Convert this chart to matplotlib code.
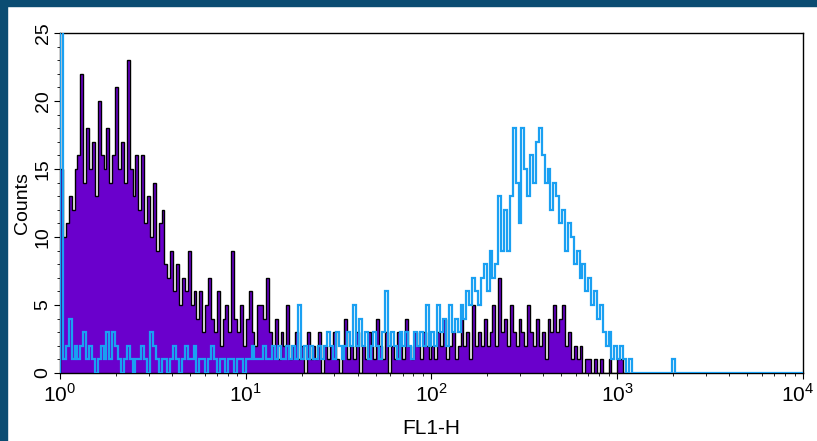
import numpy as np
import matplotlib
matplotlib.use('Agg')
import matplotlib.pyplot as plt
import matplotlib.transforms as mtransforms
from matplotlib.patches import Rectangle
from matplotlib.ticker import LogLocator, MultipleLocator

plt.rcParams['font.family'] = ['Liberation Sans', 'DejaVu Sans']
plt.rcParams['mathtext.fontset'] = 'custom'
plt.rcParams['mathtext.rm'] = 'Liberation Sans'

# 256 channels over 4 log decades (64 per decade)
n_channels = 256
channels_per_decade = 64
decade_ticks = [1, 10, 100, 1000, 10000]
decade_labels = ['$10^0$', '$10^1$', '$10^2$', '$10^3$', '$10^4$']

# unstained / control histogram (purple, filled)
control = [
    15, 10, 11, 13, 12, 15, 16, 22, 14, 18, 15, 17, 13, 20, 16, 15,
    18, 14, 16, 21, 15, 17, 14, 23, 15, 13, 16, 12, 16, 11, 13, 10,
    14, 9, 11, 12, 8, 7, 9, 6, 8, 5, 7, 6, 9, 5, 6, 4,
    6, 3, 5, 7, 4, 3, 6, 2, 4, 5, 3, 9, 4, 3, 5, 2,
    4, 6, 3, 2, 5, 5, 4, 7, 3, 2, 4, 1, 3, 2, 5, 1,
    2, 3, 1, 2, 0, 3, 1, 2, 1, 3, 0, 2, 1, 2, 3, 1,
    0, 2, 4, 1, 2, 1, 3, 0, 2, 1, 3, 2, 1, 4, 2, 1,
    3, 0, 2, 1, 3, 2, 1, 4, 2, 1, 3, 2, 1, 3, 2, 1,
    2, 1, 3, 2, 4, 1, 2, 3, 1, 2, 4, 2, 3, 1, 5, 2,
    3, 2, 4, 2, 3, 5, 2, 7, 3, 4, 2, 5, 3, 2, 4, 3,
    2, 5, 3, 2, 4, 2, 3, 1, 4, 3, 5, 3, 4, 5, 2, 3,
    1, 2, 1, 2, 0, 1, 1, 0, 1, 0, 1, 0, 0, 1, 0, 0,
    1, 1, 0, 0, 0, 0, 0, 0, 0, 0, 0, 0, 0, 0, 0, 0,
    0, 0, 0, 0, 0, 0, 0, 0, 0, 0, 0, 0, 0, 0, 0, 0,
    0, 0, 0, 0, 0, 0, 0, 0, 0, 0, 0, 0, 0, 0, 0, 0,
    0, 0, 0, 0, 0, 0, 0, 0, 0, 0, 0, 0, 0, 0, 0, 0,
]

# stained sample histogram (light blue outline)
stained = [
    30, 1, 2, 4, 1, 2, 1, 2, 3, 1, 2, 1, 0, 1, 2, 1,
    3, 1, 3, 2, 1, 0, 1, 2, 1, 0, 1, 1, 2, 1, 0, 3,
    2, 1, 0, 1, 1, 0, 1, 2, 1, 0, 1, 2, 1, 1, 2, 0,
    1, 1, 0, 1, 2, 1, 0, 1, 1, 0, 1, 1, 0, 1, 1, 0,
    1, 1, 2, 1, 1, 1, 2, 1, 1, 2, 1, 2, 1, 1, 2, 1,
    2, 1, 5, 1, 2, 1, 2, 1, 1, 2, 1, 2, 3, 2, 1, 3,
    2, 1, 2, 3, 2, 5, 2, 4, 2, 3, 1, 2, 3, 2, 1, 3,
    6, 2, 3, 2, 1, 3, 2, 3, 2, 1, 3, 2, 3, 2, 5, 2,
    3, 2, 5, 3, 4, 2, 5, 3, 4, 3, 5, 4, 6, 5, 7, 6,
    5, 7, 8, 6, 9, 7, 8, 13, 9, 12, 9, 13, 18, 14, 11, 18,
    15, 13, 16, 14, 17, 18, 16, 14, 15, 12, 14, 13, 11, 12, 9, 11,
    10, 8, 9, 7, 8, 6, 7, 5, 6, 4, 5, 3, 2, 3, 1, 2,
    1, 2, 1, 0, 1, 0, 0, 0, 0, 0, 0, 0, 0, 0, 0, 0,
    0, 0, 0, 1, 0, 0, 0, 0, 0, 0, 0, 0, 0, 0, 0, 0,
    0, 0, 0, 0, 0, 0, 0, 0, 0, 0, 0, 0, 0, 0, 0, 0,
    0, 0, 0, 0, 0, 0, 0, 0, 0, 0, 0, 0, 0, 0, 0, 0,
]

edges = 10 ** (np.arange(n_channels + 1) / channels_per_decade)

fig = plt.figure(figsize=(8.17, 4.41), dpi=100)
fig.patch.set_facecolor('white')
# dark blue frame on the left and top of the screenshot
fig.patches.append(Rectangle((0, 0), 7 / 817, 1, transform=fig.transFigure,
                             color='#0b4c72', zorder=0))
fig.patches.append(Rectangle((0, 1 - 6 / 441), 1, 6 / 441, transform=fig.transFigure,
                             color='#0b4c72', zorder=0))

ax = fig.add_axes([60 / 817, 1 - 373 / 441, 743 / 817, 340 / 441])

ax.stairs(control, edges, fill=True, color='#6a00cc', zorder=2)
ax.stairs(control, edges, color='black', lw=1.0, zorder=3)
ax.stairs(stained, edges, color='#1aa0f2', lw=1.6, zorder=4)

ax.set_xscale('log')
ax.set_xlim(1, 1e4)
ax.set_ylim(0, 25)

ax.yaxis.set_major_locator(MultipleLocator(5))
ax.yaxis.set_minor_locator(MultipleLocator(1))
ax.xaxis.set_major_locator(LogLocator(base=10, numticks=10))
ax.xaxis.set_minor_locator(LogLocator(base=10, subs=np.arange(2, 10), numticks=50))

ax.tick_params(axis='both', which='major', direction='out', length=4, width=0.8)
ax.tick_params(axis='both', which='minor', direction='out', length=2, width=0.6)
ax.tick_params(axis='x', labelbottom=False)
ax.tick_params(axis='y', labelsize=14, pad=2)
for lab in ax.get_yticklabels():
    lab.set_rotation(90)
    lab.set_va('center')

# decade labels under the x axis; the last one nudged in so it stays on the picture
trans = mtransforms.blended_transform_factory(ax.transData, ax.transAxes)
for i, (xv, txt) in enumerate(zip(decade_ticks, decade_labels)):
    dx = -5 / 100 if i == len(decade_ticks) - 1 else 0
    t = trans + mtransforms.ScaledTranslation(dx, -10 / 100, fig.dpi_scale_trans)
    ax.text(xv, 0, txt, transform=t, ha='center', va='top', fontsize=15)

for s in ax.spines.values():
    s.set_linewidth(1.0)

ax.set_ylabel('Counts', fontsize=14, labelpad=3)
ax.set_xlabel('FL1-H', fontsize=15, labelpad=28)

fig.savefig('out.png', dpi=100)
